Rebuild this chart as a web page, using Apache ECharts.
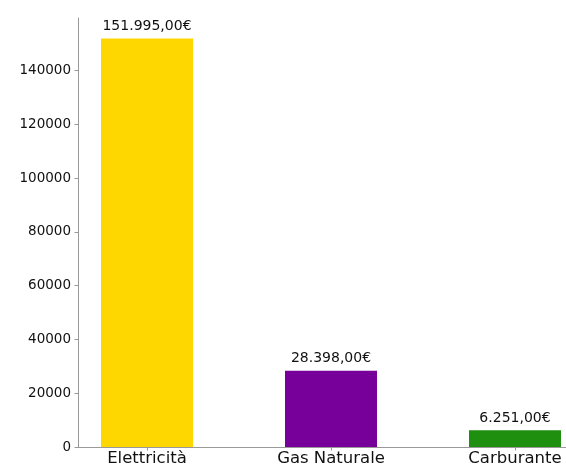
<!DOCTYPE html>
<html>
<head>
<meta charset="utf-8">
<script src="https://cdn.jsdelivr.net/npm/echarts@6/dist/echarts.min.js"></script>
<style>html,body{margin:0;padding:0;background:#fff;}#c{width:566px;height:465px;}</style>
</head>
<body>
<div id="c"></div>
<script>
const categories = ['Elettricità', 'Gas Naturale', 'Carburante'];
const values = [151995, 28398, 6251];
const valueLabels = ['151.995,00€', '28.398,00€', '6.251,00€'];
const barColors = ['#ffd700', '#760099', '#1f8f10'];
const yTicks = [0, 20000, 40000, 60000, 80000, 100000, 120000, 140000];

const chart = echarts.init(document.getElementById('c'), null, {renderer: 'canvas'});
const font = "'DejaVu Sans'";
const axisGray = '#999999';
chart.setOption({
  animation: false,
  grid: {left: 78, top: 18, height: 429, width: 506, containLabel: false, outerBoundsMode: 'none'},
  xAxis: {
    type: 'value',
    min: -0.375,
    max: 2.375,
    splitLine: {show: false},
    axisLine: {show: true, onZero: false, lineStyle: {color: axisGray, width: 1}},
    axisTick: {show: true, customValues: [0, 1, 2], length: 3.5, lineStyle: {color: axisGray}},
    axisLabel: {
      customValues: [0, 1, 2],
      formatter: v => categories[Math.round(v)],
      fontFamily: font, fontSize: 16.5, color: '#111', margin: 3
    }
  },
  yAxis: {
    type: 'value',
    min: 0,
    max: Math.max(...values) * 1.05,
    splitLine: {show: false},
    axisLine: {show: true, onZero: false, lineStyle: {color: axisGray, width: 1}},
    axisTick: {show: true, customValues: yTicks, length: 3.5, lineStyle: {color: axisGray}},
    axisLabel: {
      customValues: yTicks,
      formatter: v => String(v),
      fontFamily: font, fontSize: 13.5, color: '#111', margin: 7
    }
  },
  series: [{
    type: 'bar',
    barWidth: 92,
    data: values.map((v, i) => ({
      value: [i, v],
      itemStyle: {color: barColors[i]},
      label: {formatter: valueLabels[i]}
    })),
    label: {
      show: true, position: 'top', distance: 5,
      fontFamily: font, fontSize: 14, color: '#111'
    }
  }]
});
</script>
</body>
</html>
